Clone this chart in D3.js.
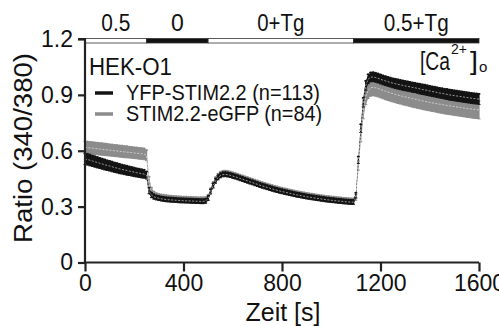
<!DOCTYPE html>
<html>
<head>
<meta charset="utf-8">
<script src="https://cdn.jsdelivr.net/npm/d3@7"></script>
<style>
  body { margin: 0; background: #fff; }
  svg { display: block; font-family: Arial, "Liberation Sans", sans-serif; }
</style>
</head>
<body>
<svg id="chart" width="499" height="326"></svg>
<script>
// time axis: one sample every 10 s
const times = d3.range(0, 1601, 10);

// YFP-STIM2.2 (n=113), mean ratio
const yfpMean = [
  0.556, 0.553, 0.549, 0.545, 0.541, 0.537, 0.533, 0.529, 0.525, 0.521, 0.518, 0.514, 0.510, 0.507, 0.503, 0.500, 0.497, 0.494, 0.491, 0.488, 0.485, 0.482, 0.480, 0.477, 0.475,
  0.468, 0.385, 0.362, 0.353, 0.348, 0.345, 0.342, 0.340, 0.338, 0.337, 0.336, 0.335, 0.334, 0.333, 0.332, 0.332, 0.331, 0.331, 0.330, 0.330, 0.329, 0.329, 0.328, 0.328,
  0.330, 0.345, 0.380, 0.412, 0.438, 0.456, 0.467, 0.472, 0.473, 0.471, 0.468,
  0.464, 0.460, 0.456, 0.451, 0.447, 0.442, 0.438, 0.433, 0.429, 0.424, 0.420, 0.415, 0.411, 0.407, 0.403, 0.399, 0.395, 0.391, 0.388, 0.384,
  0.381, 0.378, 0.375, 0.372, 0.369, 0.366, 0.363, 0.361, 0.358, 0.356, 0.353, 0.351, 0.349, 0.347, 0.345, 0.343, 0.341, 0.339, 0.337, 0.336,
  0.334, 0.333, 0.331, 0.330, 0.329, 0.327, 0.326, 0.325, 0.324, 0.324,
  0.360, 0.550, 0.720, 0.860, 0.950, 0.985, 0.995, 0.996, 0.993, 0.989, 0.984, 0.979, 0.975, 0.971, 0.967, 0.963, 0.960, 0.957, 0.954, 0.951,
  0.948, 0.946, 0.943, 0.940, 0.938, 0.935, 0.932, 0.929, 0.927, 0.924, 0.921, 0.918, 0.916, 0.913, 0.910, 0.908, 0.905, 0.903, 0.900, 0.898,
  0.896, 0.894, 0.892, 0.890, 0.888, 0.886, 0.884, 0.882, 0.880, 0.879, 0.877
];
const yfpSem = [
  0.030, 0.030, 0.030, 0.029, 0.029, 0.029, 0.028, 0.028, 0.028, 0.027, 0.027, 0.027, 0.026, 0.026, 0.026, 0.025, 0.025, 0.025, 0.024, 0.024, 0.024, 0.023, 0.023, 0.023, 0.022,
  0.020, 0.016, 0.014, 0.013, 0.012, 0.012, 0.012, 0.012, 0.012, 0.012, 0.012, 0.012, 0.012, 0.012, 0.012, 0.012, 0.012, 0.012, 0.012, 0.012, 0.012, 0.012, 0.012, 0.012,
  0.012, 0.012, 0.012, 0.012, 0.012, 0.012, 0.012, 0.012, 0.012, 0.012, 0.012,
  0.012, 0.012, 0.012, 0.012, 0.012, 0.012, 0.012, 0.012, 0.012, 0.012, 0.012, 0.012, 0.012, 0.012, 0.012, 0.012, 0.012, 0.012, 0.012, 0.012,
  0.012, 0.012, 0.012, 0.012, 0.012, 0.012, 0.012, 0.012, 0.012, 0.012, 0.012, 0.012, 0.012, 0.012, 0.012, 0.012, 0.012, 0.012, 0.012, 0.012,
  0.012, 0.012, 0.012, 0.012, 0.012, 0.012, 0.012, 0.012, 0.012, 0.012,
  0.014, 0.018, 0.022, 0.024, 0.025, 0.025, 0.025, 0.025, 0.025, 0.025, 0.025, 0.025, 0.025, 0.025, 0.025, 0.025, 0.026, 0.026, 0.026, 0.026,
  0.026, 0.026, 0.026, 0.026, 0.026, 0.026, 0.027, 0.027, 0.027, 0.027, 0.027, 0.027, 0.027, 0.027, 0.027, 0.027, 0.027, 0.028, 0.028, 0.028,
  0.028, 0.028, 0.028, 0.028, 0.028, 0.028, 0.028, 0.028, 0.028, 0.028, 0.028
];

// STIM2.2-eGFP (n=84), mean ratio
const gfpMean = [
  0.618, 0.617, 0.615, 0.614, 0.612, 0.611, 0.609, 0.608, 0.606, 0.605, 0.603, 0.602, 0.600, 0.599, 0.597, 0.596, 0.594, 0.593, 0.591, 0.590, 0.588, 0.587, 0.585, 0.584, 0.582,
  0.575, 0.440, 0.385, 0.366, 0.359, 0.355, 0.352, 0.350, 0.348, 0.346, 0.345, 0.344, 0.343, 0.342, 0.341, 0.340, 0.340, 0.339, 0.339, 0.338, 0.338, 0.337, 0.337, 0.337,
  0.338, 0.350, 0.385, 0.418, 0.445, 0.463, 0.474, 0.479, 0.480, 0.478, 0.475,
  0.471, 0.467, 0.463, 0.458, 0.454, 0.449, 0.445, 0.440, 0.436, 0.431, 0.427, 0.422, 0.418, 0.414, 0.410, 0.406, 0.402, 0.398, 0.395, 0.391,
  0.388, 0.385, 0.382, 0.379, 0.376, 0.373, 0.370, 0.368, 0.365, 0.363, 0.360, 0.358, 0.356, 0.354, 0.352, 0.350, 0.348, 0.346, 0.344, 0.343,
  0.341, 0.340, 0.338, 0.337, 0.336, 0.334, 0.333, 0.332, 0.331, 0.331,
  0.350, 0.520, 0.680, 0.810, 0.890, 0.925, 0.938, 0.940, 0.938, 0.934, 0.929, 0.924, 0.919, 0.915, 0.911, 0.907, 0.903, 0.899, 0.896, 0.892,
  0.889, 0.886, 0.883, 0.880, 0.877, 0.874, 0.871, 0.868, 0.865, 0.862, 0.860, 0.857, 0.855, 0.852, 0.850, 0.848, 0.845, 0.843, 0.841, 0.839,
  0.837, 0.835, 0.833, 0.831, 0.829, 0.827, 0.826, 0.824, 0.822, 0.821, 0.819
];
const gfpSem = [
  0.032, 0.032, 0.032, 0.032, 0.032, 0.032, 0.032, 0.032, 0.032, 0.032, 0.031, 0.031, 0.031, 0.031, 0.031, 0.031, 0.031, 0.031, 0.030, 0.030, 0.030, 0.030, 0.030, 0.030, 0.030,
  0.028, 0.020, 0.016, 0.014, 0.013, 0.013, 0.013, 0.013, 0.013, 0.013, 0.013, 0.013, 0.013, 0.013, 0.013, 0.013, 0.013, 0.013, 0.013, 0.013, 0.013, 0.013, 0.013, 0.013,
  0.013, 0.013, 0.013, 0.013, 0.013, 0.013, 0.013, 0.013, 0.013, 0.013, 0.013,
  0.013, 0.013, 0.013, 0.013, 0.013, 0.013, 0.013, 0.013, 0.013, 0.013, 0.013, 0.013, 0.013, 0.013, 0.013, 0.013, 0.013, 0.013, 0.013, 0.013,
  0.013, 0.013, 0.013, 0.013, 0.013, 0.013, 0.013, 0.013, 0.013, 0.013, 0.013, 0.013, 0.013, 0.013, 0.013, 0.013, 0.013, 0.013, 0.013, 0.013,
  0.013, 0.013, 0.013, 0.013, 0.013, 0.013, 0.013, 0.013, 0.013, 0.013,
  0.016, 0.024, 0.032, 0.038, 0.042, 0.044, 0.045, 0.045, 0.045, 0.045, 0.045, 0.045, 0.045, 0.045, 0.045, 0.045, 0.045, 0.045, 0.045, 0.045,
  0.045, 0.045, 0.046, 0.046, 0.046, 0.046, 0.046, 0.046, 0.046, 0.046, 0.046, 0.046, 0.046, 0.046, 0.047, 0.047, 0.047, 0.047, 0.047, 0.047,
  0.047, 0.047, 0.047, 0.047, 0.047, 0.047, 0.048, 0.048, 0.048, 0.048, 0.048
];

// bath solution protocol ([Ca2+]o in mM, thapsigargin)
const phaseLabels = ['0.5', '0', '0+Tg', '0.5+Tg'];
const phaseStart = [0, 250, 500, 1090];
const phaseEnd = [250, 500, 1090, 1600];
const phaseFill = ['#fff', '#111', '#fff', '#111'];

const xTicks = [0, 400, 800, 1200, 1600];
const yTicks = [0, 0.3, 0.6, 0.9, 1.2];

const series = [
  { name: 'STIM2.2-eGFP (n=84)', mean: gfpMean, sem: gfpSem, color: '#8c8c8c' },
  { name: 'YFP-STIM2.2 (n=113)', mean: yfpMean, sem: yfpSem, color: '#141414' }
];

const svg = d3.select('#chart');

const x = d3.scaleLinear().domain([0, 1600]).range([85, 479]);
const y = d3.scaleLinear().domain([0, 1.2]).range([262.5, 39]);

// data: SEM bands, error bars and mean points
series.forEach(function(s) {
  const pts = times.map((t, i) => ({ t: t, m: s.mean[i], e: s.sem[i] }));
  const g = svg.append('g').attr('class', 'series');

  g.append('path')
    .datum(pts)
    .attr('fill', s.color)
    .attr('d', d3.area()
      .x(d => x(d.t))
      .y0(d => y(d.m - d.e))
      .y1(d => y(d.m + d.e)));

  g.selectAll('line.bar')
    .data(pts)
    .enter()
    .append('line')
    .attr('class', 'bar')
    .attr('x1', d => x(d.t))
    .attr('x2', d => x(d.t))
    .attr('y1', d => y(d.m - d.e))
    .attr('y2', d => y(d.m + d.e))
    .attr('stroke', s.color)
    .attr('stroke-width', 1.2);

  g.selectAll('path.cap')
    .data(pts)
    .enter()
    .append('path')
    .attr('class', 'cap')
    .attr('d', d => `M${x(d.t) - 1.5},${y(d.m + d.e)}h3M${x(d.t) - 1.5},${y(d.m - d.e)}h3`)
    .attr('stroke', s.color)
    .attr('stroke-width', 1);

  g.append('path')
    .datum(pts)
    .attr('fill', 'none')
    .attr('stroke', '#fff')
    .attr('stroke-width', 0.7)
    .attr('stroke-dasharray', '2,1.5')
    .attr('opacity', 0.8)
    .attr('d', d3.line().x(d => x(d.t)).y(d => y(d.m)));

  g.selectAll('rect.pt')
    .data(pts)
    .enter()
    .append('rect')
    .attr('class', 'pt')
    .attr('x', d => x(d.t) - 1)
    .attr('y', d => y(d.m + d.e) - 1)
    .attr('width', 2)
    .attr('height', 1.5)
    .attr('fill', s.color);
});

// protocol bar along the top
const bar = svg.append('g').attr('class', 'protocol');
bar.selectAll('rect')
  .data(phaseLabels)
  .enter()
  .append('rect')
  .attr('x', (d, i) => x(phaseStart[i]))
  .attr('y', y(1.2) - 0.5)
  .attr('width', (d, i) => x(phaseEnd[i]) - x(phaseStart[i]))
  .attr('height', 4.5)
  .attr('fill', (d, i) => phaseFill[i])
  .attr('stroke', '#333')
  .attr('stroke-width', 0.8);

const labelWidths = [29, null, 47, 65];
bar.selectAll('text')
  .data(phaseLabels)
  .enter()
  .append('text')
  .attr('x', (d, i) => x((phaseStart[i] + phaseEnd[i]) / 2))
  .attr('y', 31)
  .attr('text-anchor', 'middle')
  .style('font-size', '23px')
  .attr('fill', '#111')
  .each(function(d, i) {
    if (labelWidths[i]) {
      d3.select(this).attr('textLength', labelWidths[i]).attr('lengthAdjust', 'spacingAndGlyphs');
    }
  })
  .text(d => d);

// axes
const yAxis = svg.append('g')
  .attr('transform', `translate(${x(0)},0)`)
  .call(d3.axisLeft(y).tickValues(yTicks).tickSize(7).tickFormat(d => d === 0 ? '0' : d3.format('.1f')(d)));
const xAxis = svg.append('g')
  .attr('transform', `translate(0,${y(0)})`)
  .call(d3.axisBottom(x).tickValues(xTicks).tickSize(9).tickFormat(d3.format('d')));

[yAxis, xAxis].forEach(function(a) {
  a.select('.domain').attr('stroke', '#222').attr('stroke-width', 2.2);
  a.selectAll('.tick line').attr('stroke', '#222').attr('stroke-width', 2.2);
  a.selectAll('.tick text')
    .attr('fill', '#111')
    .style('font-size', '23px')
    .style('font-family', 'Arial, "Liberation Sans", sans-serif');
});
yAxis.select('.domain').attr('d', `M-7,${y(1.2)}H0V${y(0)}`);
yAxis.selectAll('.tick text').attr('x', -12);
xAxis.select('.domain').attr('d', `M${x(0)},0H${x(1600)}`);
xAxis.selectAll('.tick text').attr('y', 12);

svg.append('text')
  .attr('transform', 'translate(32,148) rotate(-90)')
  .attr('text-anchor', 'middle')
  .style('font-size', '25px')
  .attr('textLength', 190)
  .attr('lengthAdjust', 'spacingAndGlyphs')
  .attr('fill', '#111')
  .text('Ratio (340/380)');

svg.append('text')
  .attr('x', 283)
  .attr('y', 321)
  .attr('text-anchor', 'middle')
  .style('font-size', '25px')
  .attr('fill', '#111')
  .text('Zeit [s]');

// legend
const legend = svg.append('g').attr('class', 'legend');
legend.append('text')
  .attr('x', 89)
  .attr('y', 75)
  .style('font-size', '23px')
  .attr('textLength', 83)
  .attr('lengthAdjust', 'spacingAndGlyphs')
  .attr('fill', '#111')
  .text('HEK-O1');

const legendItems = series.slice().reverse();
const legendWidths = [194, 196];
legendItems.forEach(function(s, i) {
  const ly = 100 + i * 21;
  legend.append('line')
    .attr('x1', 95).attr('x2', 113)
    .attr('y1', ly - 7).attr('y2', ly - 7)
    .attr('stroke', s.color)
    .attr('stroke-width', 3.5);
  legend.append('text')
    .attr('x', 126)
    .attr('y', ly)
    .style('font-size', '22px')
    .attr('textLength', legendWidths[i])
    .attr('lengthAdjust', 'spacingAndGlyphs')
    .attr('fill', '#111')
    .text(s.name);
});

// [Ca2+]o annotation
const ca = svg.append('g').attr('class', 'ca').attr('fill', '#111');
ca.append('text').attr('x', 420).attr('y', 70).style('font-size', '26px')
  .attr('textLength', 30).attr('lengthAdjust', 'spacingAndGlyphs').text('[Ca');
ca.append('text').attr('x', 451).attr('y', 54).style('font-size', '14px').text('2+');
ca.append('text').attr('x', 470).attr('y', 70).style('font-size', '26px')
  .attr('textLength', 8).attr('lengthAdjust', 'spacingAndGlyphs').text(']');
ca.append('text').attr('x', 479).attr('y', 72).style('font-size', '15px').text('o');
</script>
</body>
</html>
